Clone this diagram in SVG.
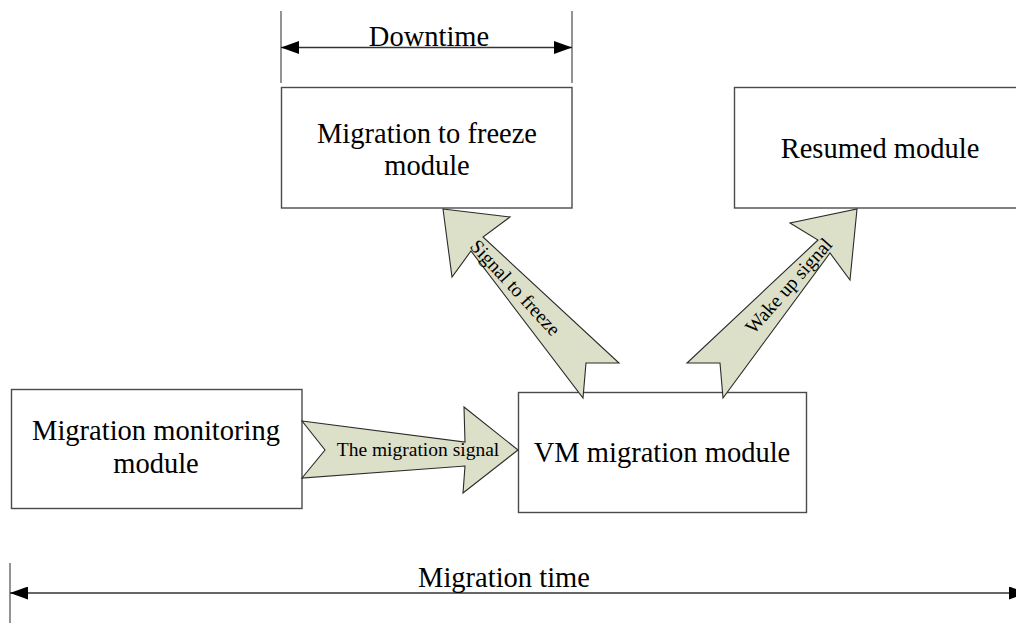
<svg xmlns="http://www.w3.org/2000/svg" width="1016" height="623" viewBox="0 0 1016 623">
<style>
.box{fill:#fff;stroke:#4a4a4a;stroke-width:1.4}
.t{font-family:"Liberation Serif","Times New Roman",serif;font-size:28.5px;fill:#000;text-anchor:middle}
.s{font-family:"Liberation Serif","Times New Roman",serif;font-size:19.5px;fill:#000;text-anchor:middle}
.blk{fill:#dde0c8;stroke:#2a2a2a;stroke-width:1.1;stroke-linejoin:miter}
.dim{stroke:#333;stroke-width:1.5;fill:none}
.tick{stroke:#666;stroke-width:1.4}
</style>
<defs>
<marker id="ah" markerUnits="userSpaceOnUse" markerWidth="18" markerHeight="13" viewBox="0 0 18 13" refX="18" refY="6.5" orient="auto-start-reverse">
<path d="M0,0 L18,6.5 L0,13 z" fill="#000"/>
</marker>
</defs>
<rect width="1016" height="623" fill="#fff"/>
<g id="freeze-module">
<rect class="box" x="281.5" y="87.5" width="290.5" height="120.5"/>
<text class="t" x="427" y="143">Migration to freeze</text>
<text class="t" x="427" y="175">module</text>
</g>
<g id="resumed-module">
<rect class="box" x="734.5" y="87.5" width="292" height="120.5"/>
<text class="t" x="880" y="158">Resumed module</text>
</g>
<g id="monitoring-module">
<rect class="box" x="11.5" y="389.5" width="290.5" height="119"/>
<text class="t" x="156" y="440">Migration monitoring</text>
<text class="t" x="156" y="473">module</text>
</g>
<g id="vm-migration-module">
<rect class="box" x="518.5" y="392.5" width="288" height="120"/>
<text class="t" x="662" y="462">VM migration module</text>
</g>
<g id="connectors">
<g id="migration-signal">
<polygon class="blk" points="302,421 465,442 464,407 518,450 463,493 465,466 302,478 325,450"/>
<text class="s" x="418" y="456">The migration signal</text>
</g>
<g id="signal-to-freeze">
<polygon class="blk" points="443,209 510,217 483,237 619,363 586,363 583,398 471,251 452,277"/>
<text class="s" transform="translate(515,288) rotate(47.3)" x="0" y="6">Signal to freeze</text>
</g>
<g id="wake-up-signal">
<polygon class="blk" points="857,209 850,280 830,253 723,398 720,363 687,363 818,240 790,223"/>
<text class="s" transform="translate(789,286) rotate(-48.4)" x="0" y="6">Wake up signal</text>
</g>
</g>
<g id="dimensions">
<line class="tick" x1="281" y1="11" x2="281" y2="83"/>
<line class="tick" x1="572" y1="11" x2="572" y2="83"/>
<line class="dim" x1="281" y1="47.5" x2="572" y2="47.5" marker-start="url(#ah)" marker-end="url(#ah)"/>
<text class="t" x="429" y="46">Downtime</text>
<line class="tick" x1="10" y1="563" x2="10" y2="623"/>
<line class="dim" x1="10" y1="593" x2="1027" y2="593" marker-start="url(#ah)" marker-end="url(#ah)"/>
<text class="t" x="504" y="587">Migration time</text>
</g>
</svg>
